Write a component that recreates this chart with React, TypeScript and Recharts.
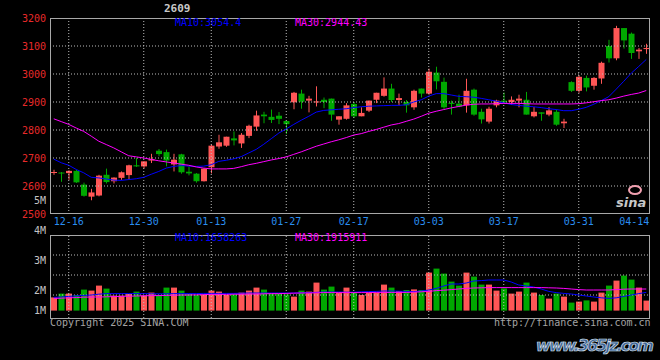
import { ComposedChart, Bar, Line, XAxis, YAxis, ReferenceLine, Cell } from 'recharts'

// trading days shown (12-12 .. 04-14)
const DATES = [
  '12-12', '12-13', '12-16', '12-17', '12-18', '12-19', '12-20', '12-23', '12-24', '12-25',
  '12-26', '12-27', '12-30', '12-31', '01-02', '01-03', '01-06', '01-07', '01-08', '01-09',
  '01-10', '01-13', '01-14', '01-15', '01-16', '01-17', '01-20', '01-21', '01-22', '01-23',
  '01-24', '01-27', '02-05', '02-06', '02-07', '02-10', '02-11', '02-12', '02-13', '02-14',
  '02-17', '02-18', '02-19', '02-20', '02-21', '02-24', '02-25', '02-26', '02-27', '02-28',
  '03-03', '03-04', '03-05', '03-06', '03-07', '03-10', '03-11', '03-12', '03-13', '03-14',
  '03-17', '03-18', '03-19', '03-20', '03-21', '03-24', '03-25', '03-26', '03-27', '03-28',
  '03-31', '04-01', '04-02', '04-03', '04-07', '04-08', '04-09', '04-10', '04-11', '04-14',
]

const OPEN = [
  2647, 2648, 2646, 2654, 2605, 2562, 2566, 2640, 2617, 2629,
  2639, 2674, 2670, 2691, 2726, 2721, 2677, 2713, 2651, 2644,
  2617, 2667, 2741, 2744, 2770, 2752, 2779, 2812, 2855, 2847,
  2851, 2832, 2899, 2930, 2905, 2899, 2908, 2912, 2837, 2840,
  2893, 2849, 2869, 2908, 2922, 2948, 2907, 2900, 2881, 2948,
  2930, 3005, 2972, 2897, 2894, 2888, 2944, 2865, 2830, 2888,
  2905, 2900, 2905, 2908, 2849, 2863, 2855, 2865, 2824, 2971,
  2940, 2986, 2958, 2984, 3100, 3056, 3164, 3144, 3081, 3089,
]
const HIGH = [
  2658, 2650, 2656, 2658, 2612, 2590, 2640, 2662, 2631, 2652,
  2676, 2700, 2688, 2715, 2732, 2730, 2715, 2715, 2670, 2646,
  2664, 2748, 2783, 2776, 2795, 2789, 2819, 2869, 2865, 2873,
  2864, 2834, 2936, 2944, 2922, 2956, 2916, 2912, 2849, 2896,
  2900, 2881, 2905, 2933, 2988, 2965, 2930, 2907, 2944, 2948,
  3019, 3026, 2987, 2905, 2926, 2983, 2948, 2876, 2883, 2908,
  2934, 2920, 2926, 2936, 2882, 2863, 2882, 2873, 2840, 2974,
  2995, 2994, 2989, 3044, 3122, 3172, 3164, 3148, 3093, 3108,
]
const LOW = [
  2640, 2615, 2622, 2611, 2562, 2549, 2563, 2609, 2609, 2622,
  2622, 2668, 2663, 2682, 2706, 2670, 2652, 2644, 2638, 2612,
  2616, 2645, 2733, 2740, 2745, 2736, 2771, 2797, 2824, 2825,
  2821, 2786, 2874, 2876, 2863, 2884, 2878, 2833, 2819, 2837,
  2843, 2849, 2864, 2896, 2919, 2900, 2888, 2862, 2872, 2916,
  2926, 2945, 2872, 2855, 2881, 2862, 2851, 2823, 2823, 2881,
  2893, 2890, 2881, 2855, 2845, 2833, 2849, 2815, 2807, 2936,
  2933, 2938, 2944, 2965, 3041, 3049, 3091, 3054, 3054, 3072,
]
const CLOSE = [
  2650, 2645, 2654, 2613, 2565, 2577, 2637, 2614, 2630, 2649,
  2674, 2670, 2688, 2696, 2714, 2691, 2694, 2649, 2645, 2617,
  2662, 2744, 2756, 2776, 2763, 2783, 2815, 2852, 2849, 2836,
  2840, 2821, 2933, 2901, 2912, 2902, 2900, 2855, 2849, 2888,
  2849, 2861, 2905, 2933, 2948, 2907, 2914, 2888, 2940, 2930,
  3008, 2974, 2881, 2893, 2884, 2940, 2855, 2838, 2876, 2905,
  2899, 2908, 2912, 2855, 2865, 2858, 2870, 2819, 2830, 2940,
  2990, 2952, 2986, 3040, 3056, 3164, 3120, 3075, 3087, 3093,
]
const MA10 = [
  2696, 2683, 2674, 2659, 2647, 2631, 2629, 2625, 2621, 2620,
  2623, 2626, 2631, 2642, 2652, 2664, 2670, 2673, 2671, 2670,
  2671, 2676, 2688, 2692, 2697, 2705, 2718, 2731, 2749, 2769,
  2789, 2804, 2820, 2835, 2849, 2864, 2870, 2872, 2874, 2876,
  2880, 2883, 2885, 2886, 2887, 2888, 2888, 2890, 2900, 2908,
  2921, 2930, 2930, 2925, 2920, 2919, 2917, 2913, 2908, 2903,
  2897, 2891, 2888, 2885, 2883, 2880, 2876, 2873, 2869, 2869,
  2874, 2881, 2892, 2905, 2919, 2946, 2974, 3003, 3027, 3052,
]
const MA30 = [
  2840, 2830, 2820, 2807, 2795, 2778, 2760, 2748, 2736, 2722,
  2708, 2704, 2700, 2695, 2690, 2686, 2682, 2678, 2674, 2668,
  2664, 2661, 2661, 2661, 2663, 2669, 2676, 2681, 2687, 2693,
  2698, 2704, 2713, 2722, 2732, 2742, 2750, 2758, 2765, 2773,
  2782, 2787, 2795, 2802, 2810, 2818, 2823, 2831, 2839, 2849,
  2860, 2867, 2873, 2879, 2884, 2889, 2892, 2893, 2893, 2894,
  2895, 2895, 2895, 2894, 2893, 2893, 2893, 2893, 2893, 2893,
  2894, 2897, 2901, 2905, 2908, 2914, 2921, 2927, 2932, 2941,
]

// volume in sina's M units
const VOLUME = [
  0.88, 1.07, 1.07, 1.0, 1.27, 1.22, 1.47, 1.32, 0.97, 0.97,
  1.05, 1.17, 0.97, 1.12, 1.0, 1.37, 1.37, 1.22, 1.05, 1.0,
  1.0, 1.22, 1.17, 1.0, 1.03, 1.12, 1.22, 1.37, 1.27, 1.07,
  1.07, 1.03, 0.92, 1.22, 1.17, 1.62, 1.27, 1.42, 1.12, 1.37,
  1.12, 1.0, 1.12, 1.12, 1.52, 1.37, 1.2, 1.25, 1.28, 1.25,
  2.12, 2.32, 2.07, 1.67, 1.47, 2.12, 1.92, 1.52, 1.52, 1.22,
  1.33, 1.07, 1.17, 1.62, 1.12, 1.0, 0.82, 1.07, 0.92, 0.62,
  0.67, 0.73, 0.67, 1.12, 1.47, 1.72, 1.97, 1.77, 1.37, 0.72,
]
const VOL_MA10 = [
  0.88, 0.9, 0.93, 0.96, 0.98, 1.0, 1.04, 1.07, 1.07, 1.07,
  1.07, 1.07, 1.07, 1.06, 1.06, 1.06, 1.07, 1.07, 1.07, 1.07,
  1.08, 1.08, 1.08, 1.08, 1.08, 1.09, 1.1, 1.1, 1.1, 1.1,
  1.1, 1.1, 1.1, 1.11, 1.12, 1.13, 1.15, 1.15, 1.15, 1.14,
  1.14, 1.16, 1.17, 1.18, 1.2, 1.2, 1.19, 1.18, 1.17, 1.2,
  1.25, 1.33, 1.45, 1.55, 1.55, 1.6, 1.7, 1.72, 1.75, 1.75,
  1.75, 1.65, 1.5, 1.45, 1.4, 1.3, 1.18, 1.12, 1.08, 1.05,
  1.0, 0.95, 0.9, 0.86, 0.83, 0.86, 0.93, 1.0, 1.07, 1.13,
]
const VOL_MA30 = [
  0.83, 0.84, 0.86, 0.87, 0.89, 0.9, 0.9, 0.91, 0.92, 0.93,
  0.94, 0.95, 0.96, 0.97, 0.97, 0.98, 0.99, 1.0, 1.0, 1.01,
  1.02, 1.03, 1.03, 1.03, 1.04, 1.04, 1.05, 1.05, 1.06, 1.07,
  1.07, 1.08, 1.09, 1.1, 1.1, 1.11, 1.12, 1.12, 1.12, 1.12,
  1.12, 1.12, 1.12, 1.13, 1.13, 1.13, 1.13, 1.13, 1.14, 1.16,
  1.18, 1.22, 1.24, 1.27, 1.3, 1.33, 1.35, 1.36, 1.37, 1.37,
  1.37, 1.37, 1.37, 1.37, 1.37, 1.37, 1.36, 1.35, 1.33, 1.3,
  1.27, 1.25, 1.25, 1.25, 1.25, 1.27, 1.29, 1.3, 1.3, 1.3,
]
const VOL_BASE = 0.22

const X_TICKS = ['12-16', '12-30', '01-13', '01-27', '02-17', '03-03', '03-17', '03-31', '04-14']
const GRID_DATES = ['12-16', '12-30', '01-13', '01-27', '02-17', '03-03', '03-17', '03-31']
const PRICE_TICKS = [2500, 2600, 2700, 2800, 2900, 3000, 3100, 3200]
const PRICE_GRID = [2600, 2700, 2800, 2900, 3000, 3100]
const VOL_TICKS = [0.22, 1.22, 2.72, 4.22, 5.75]
const VOL_TICK_LABELS = ['1M', '2M', '3M', '4M', '5M']
const VOL_GRID = [1, 2, 3]

const data = DATES.map((date, i) => ({
  date,
  open: OPEN[i],
  high: HIGH[i],
  low: LOW[i],
  close: CLOSE[i],
  vol: VOLUME[i],
  ma10: MA10[i],
  ma30: MA30[i],
  vma10: VOL_MA10[i],
  vma30: VOL_MA30[i],
}))

const MONO = '"DejaVu Sans Mono", monospace'
const UP = '#ff5656'
const DOWN = '#00a800'
const GRID = '#bcbcbc'
const FRAME = '#a8a8a8'

function Candle(props: any) {
  const { x, y, width, height, payload } = props
  const top = Math.min(y, y + height)
  const h = Math.abs(height)
  const k = h / (payload.high - payload.low || 1)
  const yOf = (v: number) => top + (payload.high - v) * k
  const color = payload.close >= payload.open ? UP : DOWN
  const bTop = yOf(Math.max(payload.open, payload.close))
  const bBot = yOf(Math.min(payload.open, payload.close))
  const cx = x + width / 2
  return (
    <g>
      <line x1={cx} x2={cx} y1={top} y2={top + h} stroke={color} strokeWidth={1} />
      <rect x={x} y={bTop} width={width} height={Math.max(1, bBot - bTop)} fill={color} />
    </g>
  )
}

function DateTick({ x, y, payload }: any) {
  const last = payload.value === DATES[DATES.length - 1]
  return (
    <text x={last ? x + 3 : x} y={y} dy="0.71em" textAnchor={last ? 'end' : 'middle'}
      fill="#2a8ef0" fontSize={10} fontFamily={MONO}>
      {payload.value}
    </text>
  )
}

const label = (left: number, top: number, color: string, text: string) => (
  <div style={{ position: 'absolute', left, top, color, fontSize: 10, lineHeight: '10px', fontFamily: MONO, whiteSpace: 'pre' }}>
    {text}
  </div>
)

export default function App() {
  return (
    <div style={{ position: 'fixed', left: 0, top: 0, width: 660, height: 360, background: '#000', overflow: 'hidden', fontFamily: MONO }}>
      {/* price panel */}
      <div style={{ position: 'absolute', left: 0, top: 0 }}>
        <ComposedChart width={660} height={232} data={data} margin={{ top: 18, right: 10, bottom: 0, left: 0 }}>
          <XAxis dataKey="date" ticks={X_TICKS} interval={0} tickLine={false} axisLine={false}
            tickSize={0} tickMargin={4} height={18} tick={<DateTick />} />
          <YAxis domain={[2500, 3200]} ticks={PRICE_TICKS} allowDataOverflow interval={0} width={50}
            tickLine={false} axisLine={false} tickSize={0} tickMargin={4}
            tick={{ fill: '#e82a2a', fontSize: 10, fontFamily: MONO }} />
          {PRICE_GRID.map(v => (
            <ReferenceLine key={v} y={v} stroke={GRID} strokeDasharray="1 2" />
          ))}
          {GRID_DATES.map(d => (
            <ReferenceLine key={d} x={d} stroke={GRID} strokeDasharray="1 2" />
          ))}
          <Bar dataKey={(d: any) => [d.low, d.high]} barSize={6} shape={<Candle />} isAnimationActive={false} />
          <Line dataKey="ma10" stroke="#0000ff" strokeWidth={1} dot={false} isAnimationActive={false} />
          <Line dataKey="ma30" stroke="#ff00ff" strokeWidth={1} dot={false} isAnimationActive={false} />
        </ComposedChart>
      </div>
      <div style={{ position: 'absolute', left: 50, top: 18, width: 600, height: 196, border: `1px solid ${FRAME}`, boxSizing: 'border-box' }} />

      {/* volume panel */}
      <div style={{ position: 'absolute', left: 0, top: 190 }}>
        <ComposedChart width={660} height={130} data={data} margin={{ top: 45, right: 10, bottom: 2, left: 0 }}>
          <XAxis dataKey="date" hide />
          <YAxis domain={[-0.15, 4]} ticks={VOL_TICKS} allowDataOverflow interval={0} width={50}
            tickLine={false} axisLine={false} tickSize={0} tickMargin={4}
            tickFormatter={(v: number, i: number) => VOL_TICK_LABELS[i]}
            tick={{ fill: '#c4c4c4', fontSize: 10, fontFamily: MONO }} />
          {VOL_GRID.map(v => (
            <ReferenceLine key={v} y={v} stroke={GRID} strokeDasharray="1 2" />
          ))}
          {GRID_DATES.map(d => (
            <ReferenceLine key={d} x={d} stroke={GRID} strokeDasharray="1 2" />
          ))}
          <Bar dataKey={(d: any) => [VOL_BASE, d.vol]} barSize={6} isAnimationActive={false}>
            {data.map((d, i) => (
              <Cell key={`v-${i}`} fill={d.close >= d.open ? UP : DOWN} />
            ))}
          </Bar>
          <Line dataKey="vma10" stroke="#0000ff" strokeWidth={1} dot={false} isAnimationActive={false} />
          <Line dataKey="vma30" stroke="#ff00ff" strokeWidth={1} dot={false} isAnimationActive={false} />
        </ComposedChart>
      </div>
      <div style={{ position: 'absolute', left: 50, top: 235, width: 600, height: 84, border: `1px solid ${FRAME}`, boxSizing: 'border-box' }} />

      {/* texts */}
      <div style={{ position: 'absolute', left: 164, top: 3, color: '#c8c8c8', fontSize: 11, lineHeight: '12px', fontWeight: 'bold', fontFamily: MONO }}>2609</div>
      {label(175, 18, '#0000ff', 'MA10:3054.4')}
      {label(295, 18, '#ff00ff', 'MA30:2944.43')}
      {label(175, 233, '#0000ff', 'MA10:1658263')}
      {label(295, 233, '#ff00ff', 'MA30:1915911')}
      {label(50, 318, '#a4a4a4', 'Copyright 2025 SINA.COM')}
      {label(494, 318, '#a4a4a4', 'http://finance.sina.com.cn')}

      <svg style={{ position: 'absolute', left: 610, top: 180 }} width={45} height={34}>
        <ellipse cx={25} cy={10} rx={6} ry={4} fill="none" stroke="#f0a0b0" strokeWidth={2} />
        <text x={6} y={27} fontSize={13} fontStyle="italic" fontWeight="bold" fill="#c8c8c8"
          fontFamily="DejaVu Sans, sans-serif">sina</text>
      </svg>
      <svg style={{ position: 'absolute', left: 530, top: 333 }} width={130} height={24}>
        <text x={6} y={18} fontSize={16} fontStyle="italic" fontWeight="bold" fill="#3d6396"
          stroke="#d8e0ec" strokeWidth={0.7} textLength={118} fontFamily="DejaVu Sans, sans-serif">www.365jz.com</text>
      </svg>
    </div>
  )
}
